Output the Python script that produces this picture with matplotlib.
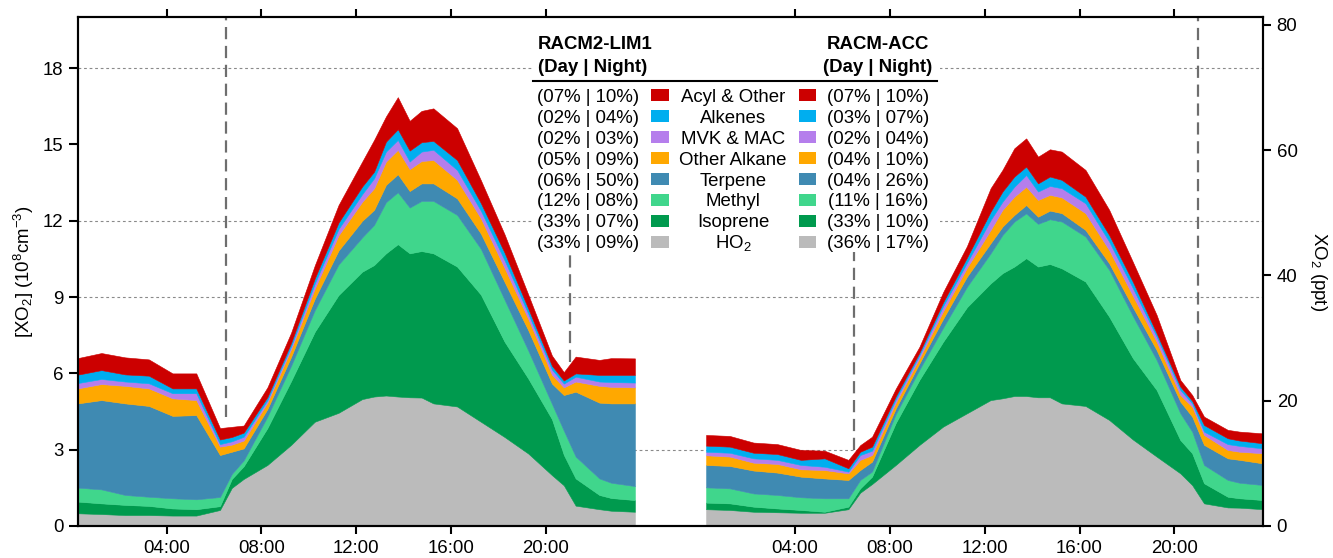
import numpy as np
import matplotlib
matplotlib.use("Agg")
import matplotlib.pyplot as plt
from matplotlib.patches import Rectangle
from matplotlib.lines import Line2D

plt.rcParams['font.family'] = ['Liberation Sans', 'DejaVu Sans']
plt.rcParams['mathtext.fontset'] = 'custom'
plt.rcParams['mathtext.rm'] = 'Liberation Sans'
plt.rcParams['mathtext.it'] = 'Liberation Sans:italic'
plt.rcParams['mathtext.bf'] = 'Liberation Sans:bold'

# ---------------- data ----------------
hours = [0.25, 1.25, 2.25, 3.25, 4.25, 5.25, 6.25, 6.75, 7.25, 8.25, 9.25, 10.25,
         11.25, 12.25, 12.75, 13.25, 13.75, 14.25, 14.75, 15.25, 16.25, 17.25,
         18.25, 19.25, 20.25, 20.75, 21.25, 22.25, 22.75, 23.75]
day2_offset = 26.5          # second model drawn after a gap on the same time axis
sunrise, sunset = 6.5, 21.0

species = ['HO$_2$', 'Isoprene', 'Methyl', 'Terpene', 'Other Alkane',
           'MVK & MAC', 'Alkenes', 'Acyl & Other']          # bottom -> top
colors = ['#BBBBBB', '#009A4E', '#40D68C', '#3F8AB2', '#FFA800',
          '#B57EEC', '#00AEEF', '#CC0000']

# cumulative stack levels (top of each layer, 10^8 cm^-3) -- RACM2-LIM1
lim_ho2 = [0.50, 0.47, 0.43, 0.43, 0.41, 0.41, 0.63, 1.50, 1.85, 2.40, 3.19, 4.10, 4.45, 4.99, 5.09,
           5.13, 5.09, 5.06, 5.05, 4.82, 4.70, 4.10, 3.50, 2.85, 2.00, 1.60, 0.80, 0.66, 0.60, 0.56]
lim_isop = [0.96, 0.89, 0.83, 0.79, 0.69, 0.66, 0.78, 1.85, 2.35, 3.85, 5.70, 7.64, 9.08, 10.00, 10.26,
            10.72, 11.08, 10.72, 10.81, 10.72, 10.20, 9.10, 7.25, 5.80, 4.20, 2.80, 1.87, 1.22, 1.10, 1.02]
lim_meth = [1.51, 1.44, 1.22, 1.15, 1.09, 1.05, 1.14, 2.05, 2.58, 4.30, 6.30, 8.49, 10.28, 11.35, 11.84,
            12.73, 13.12, 12.52, 12.78, 12.78, 12.23, 10.90, 8.90, 6.90, 4.80, 3.75, 2.73, 1.87, 1.70, 1.57]
lim_terp = [4.82, 4.95, 4.82, 4.72, 4.33, 4.36, 2.79, 2.92, 3.05, 4.60, 6.65, 8.94, 10.83, 12.00, 12.43,
            13.41, 13.83, 13.17, 13.47, 13.47, 12.88, 11.50, 9.60, 7.70, 5.60, 5.15, 5.28, 4.85, 4.82, 4.82]
lim_alka = [5.41, 5.58, 5.51, 5.41, 5.02, 4.95, 3.12, 3.20, 3.36, 4.85, 6.95, 9.34, 11.43, 12.75, 13.28,
            14.33, 14.79, 14.03, 14.35, 14.39, 13.61, 12.10, 10.15, 8.15, 5.95, 5.45, 5.68, 5.51, 5.47, 5.45]
lim_mvk = [5.62, 5.78, 5.68, 5.61, 5.22, 5.22, 3.22, 3.33, 3.51, 4.95, 7.07, 9.54, 11.68, 13.05, 13.67,
           14.72, 15.18, 14.33, 14.72, 14.79, 14.00, 12.40, 10.45, 8.35, 6.15, 5.60, 5.87, 5.68, 5.66, 5.64]
lim_alke = [5.95, 6.13, 5.96, 5.91, 5.41, 5.41, 3.40, 3.50, 3.67, 5.07, 7.20, 9.74, 11.93, 13.35, 13.93,
            15.11, 15.60, 14.76, 15.09, 15.14, 14.39, 12.70, 10.75, 8.55, 6.30, 5.72, 6.00, 5.94, 5.94, 5.94]
lim_acyl = [6.60, 6.80, 6.63, 6.55, 6.00, 6.00, 3.85, 3.90, 3.95, 5.45, 7.60, 10.25, 12.62, 14.33, 15.18,
            16.10, 16.86, 15.93, 16.32, 16.42, 15.64, 13.60, 11.47, 9.10, 6.70, 6.05, 6.66, 6.53, 6.60, 6.59]

# cumulative stack levels -- RACM-ACC
acc_ho2 = [0.66, 0.63, 0.56, 0.54, 0.52, 0.52, 0.66, 1.31, 1.65, 2.40, 3.19, 3.91, 4.43, 4.95, 5.02,
           5.11, 5.11, 5.06, 5.06, 4.82, 4.72, 4.17, 3.40, 2.73, 2.07, 1.61, 0.89, 0.73, 0.72, 0.66]
acc_isop = [0.92, 0.89, 0.76, 0.69, 0.63, 0.56, 0.76, 1.48, 1.94, 4.05, 5.75, 7.25, 8.60, 9.54, 9.94,
            10.20, 10.53, 10.20, 10.30, 10.13, 9.61, 8.23, 6.60, 5.35, 3.38, 2.86, 1.68, 1.15, 1.09, 1.02]
acc_meth = [1.52, 1.48, 1.28, 1.22, 1.13, 1.09, 1.09, 1.81, 2.14, 4.40, 6.15, 7.80, 9.40, 10.72, 11.44,
            11.97, 12.29, 11.88, 12.06, 11.97, 11.38, 10.07, 8.25, 6.53, 4.43, 3.71, 2.40, 1.81, 1.70, 1.61]
acc_terp = [2.40, 2.36, 2.18, 2.10, 1.94, 1.87, 1.81, 2.20, 2.53, 4.62, 6.40, 8.15, 9.80, 11.12, 11.77,
            12.23, 12.62, 12.16, 12.40, 12.30, 11.64, 10.33, 8.60, 6.92, 4.89, 4.30, 3.19, 2.66, 2.60, 2.46]
acc_alka = [2.78, 2.73, 2.49, 2.44, 2.23, 2.20, 2.07, 2.60, 2.79, 4.85, 6.60, 8.45, 10.15, 11.64, 12.43,
            12.95, 13.34, 12.82, 13.02, 12.92, 12.30, 10.85, 9.05, 7.25, 5.15, 4.69, 3.58, 2.99, 2.92, 2.86]
acc_mvk = [2.92, 2.88, 2.66, 2.60, 2.40, 2.33, 2.14, 2.79, 2.96, 4.98, 6.72, 8.65, 10.35, 12.03, 12.75,
           13.34, 13.80, 13.15, 13.37, 13.28, 12.69, 11.18, 9.35, 7.45, 5.35, 4.82, 3.71, 3.22, 3.15, 3.05]
acc_alke = [3.16, 3.12, 2.88, 2.83, 2.60, 2.66, 2.27, 2.92, 3.12, 5.10, 6.82, 8.80, 10.55, 12.36, 13.15,
            13.74, 14.13, 13.47, 13.74, 13.61, 12.95, 11.44, 9.60, 7.58, 5.48, 4.92, 3.97, 3.45, 3.36, 3.25]
acc_acyl = [3.58, 3.54, 3.28, 3.22, 2.99, 2.96, 2.60, 3.18, 3.51, 5.40, 7.05, 9.20, 11.00, 13.28, 14.00,
            14.85, 15.24, 14.52, 14.81, 14.72, 14.00, 12.43, 10.38, 8.30, 5.74, 5.15, 4.30, 3.78, 3.71, 3.64]

# legend contributions (day | night), listed top -> bottom of the legend
legend_names = ['Acyl & Other', 'Alkenes', 'MVK & MAC', 'Other Alkane',
                'Terpene', 'Methyl', 'Isoprene', 'HO$_2$']
lim_day = ['07', '02', '02', '05', '06', '12', '33', '33']
lim_night = ['10', '04', '03', '09', '50', '08', '07', '09']
acc_day = ['07', '03', '02', '04', '04', '11', '33', '36']
acc_night = ['10', '07', '04', '10', '26', '16', '10', '17']

tick_hours = [4, 8, 12, 16, 20]
ppt_per_unit = 4.06   # 10^8 cm^-3 -> ppt

# ---------------- figure ----------------
W, H = 1333, 558
FS = 13.4
fig = plt.figure(figsize=(W / 100, H / 100), dpi=100)
ax = fig.add_axes([77.7 / W, 32 / H, 1185.6 / W, 508.7 / H])


def P(x, y):
    return x / W, 1 - y / H


def stack(t, levels):
    lv = np.vstack([np.zeros(len(t))] + [np.asarray(l) for l in levels])
    contrib = np.diff(lv, axis=0)
    polys = ax.stackplot(t, *contrib, colors=colors, zorder=2)
    for p, c in zip(polys, colors):
        p.set_edgecolor(c)
        p.set_linewidth(0.4)


t1 = np.asarray(hours)
t2 = t1 + day2_offset
stack(t1, [lim_ho2, lim_isop, lim_meth, lim_terp, lim_alka, lim_mvk, lim_alke, lim_acyl])
stack(t2, [acc_ho2, acc_isop, acc_meth, acc_terp, acc_alka, acc_mvk, acc_alke, acc_acyl])

ax.set_xlim(t1[0], t2[-1])
ax.set_ylim(0, 20)

for yv in [3, 9, 12, 18]:
    ax.axhline(yv, color='#8a8a8a', lw=0.8, ls=(0, (2.5, 2.5)), zorder=1)

for xv, y0 in [(sunrise, 4.3), (sunset, 6.46),
               (sunrise + day2_offset, 3.0), (sunset + day2_offset, 5.0)]:
    ax.plot([xv, xv], [y0, 20], color='#6e6e6e', lw=1.6, ls=(0, (5.5, 3.0)), zorder=3)

xt = tick_hours + [h + day2_offset for h in tick_hours]
ax.set_xticks(xt)
ax.set_xticklabels(['%02d:00' % h for h in tick_hours] * 2)
ax.set_yticks([0, 3, 6, 9, 12, 15, 18])
ax.tick_params(axis='x', direction='out', length=5.5, width=1.5, labelsize=FS,
               top=True, labeltop=False, pad=4.5)
ax.tick_params(axis='y', direction='out', length=6.7, width=1.5, labelsize=FS, pad=3.6)
for s in ax.spines.values():
    s.set_linewidth(1.5)
    s.set_zorder(10)

ax2 = ax.twinx()
ax2.set_ylim(0, 20 * ppt_per_unit)
ax2.set_yticks([0, 20, 40, 60, 80])
ax2.tick_params(axis='y', direction='out', length=6, width=1.5, labelsize=FS, pad=3.6)
for s in ax2.spines.values():
    s.set_linewidth(1.5)

fig.text(*P(24, 272), '[XO$_2$] (10$^8$cm$^{-3}$)', rotation=90, ha='center',
         va='center', fontsize=FS)
fig.text(*P(1319, 272), 'XO$_2$ (ppt)', rotation=270, ha='center', va='center', fontsize=FS)

# ---------------- legend table ----------------
x0, y0 = P(533, 252)
ax.add_patch(Rectangle((x0, y0), (940 - 533) / W, (252 - 17) / H, transform=fig.transFigure,
                       facecolor='white', edgecolor='none', zorder=4))

fig.text(*P(538, 49.3), 'RACM2-LIM1', fontsize=FS, fontweight='bold', ha='left', va='baseline')
fig.text(*P(538, 71.7), '(Day | Night)', fontsize=FS, fontweight='bold', ha='left', va='baseline')
fig.text(*P(929, 49.3), 'RACM-ACC', fontsize=FS, fontweight='bold', ha='right', va='baseline')
fig.text(*P(932.7, 71.7), '(Day | Night)', fontsize=FS, fontweight='bold', ha='right', va='baseline')
lx0, ly = P(533, 81)
lx1, _ = P(936.7, 81)
fig.add_artist(Line2D([lx0, lx1], [ly, ly], color='black', lw=1.5, transform=fig.transFigure))

legend_colors = colors[::-1]
for k, name in enumerate(legend_names):
    yc = 95 + 20.95 * k
    yb = yc + 6.7
    fig.text(*P(588, yb), '(%s%% | %s%%)' % (lim_day[k], lim_night[k]), fontsize=FS,
             ha='center', va='baseline')
    fig.text(*P(733, yb), name, fontsize=FS, ha='center', va='baseline')
    fig.text(*P(878, yb), '(%s%% | %s%%)' % (acc_day[k], acc_night[k]), fontsize=FS,
             ha='center', va='baseline')
    for xs in (651, 798.5):
        fig.add_artist(Rectangle(P(xs, yc + 6), 17.5 / W, 12 / H, transform=fig.transFigure,
                                 facecolor=legend_colors[k], edgecolor='none'))

fig.savefig('out.png', dpi=100)
